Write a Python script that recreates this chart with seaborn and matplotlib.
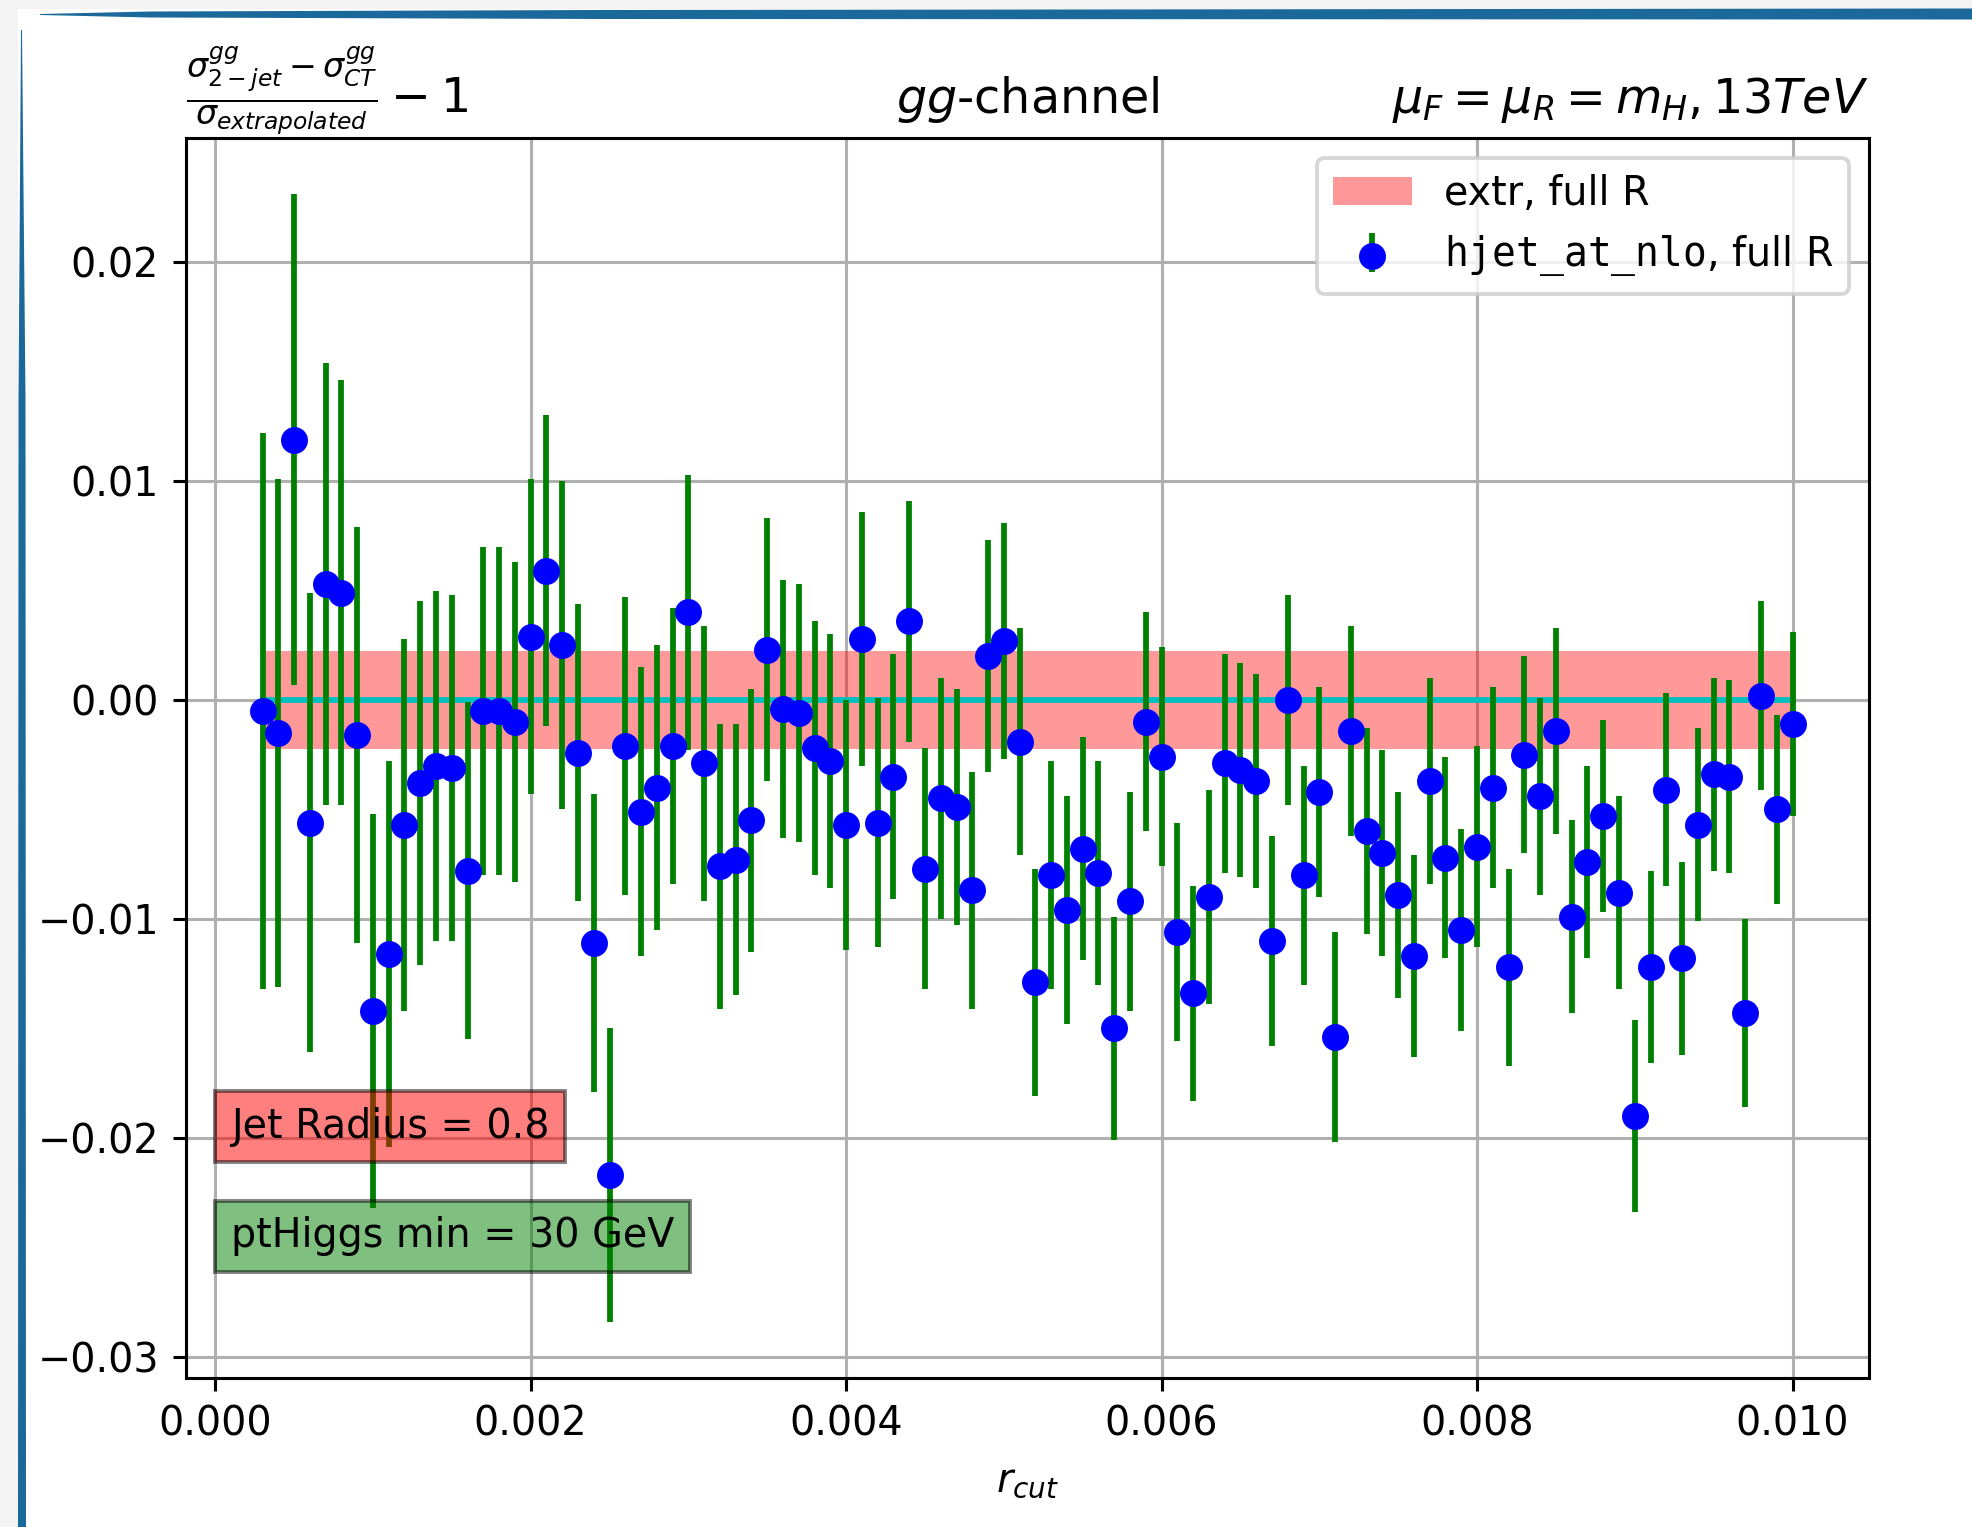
import numpy as np
import seaborn as sns
import matplotlib.pyplot as plt
from matplotlib.patches import Polygon, Rectangle
from matplotlib.legend_handler import HandlerTuple

# r_cut values, in units of 1e-4
rcut_e4 = [3, 4, 5, 6, 7, 8, 9, 10, 11, 12, 13, 14, 15, 16, 17, 18, 19, 20,
           21, 22, 23, 24, 25, 26, 27, 28, 29, 30, 31, 32, 33, 34, 35, 36, 37,
           38, 39, 40, 41, 42, 43, 44, 45, 46, 47, 48, 49, 50, 51, 52, 53, 54,
           55, 56, 57, 58, 59, 60, 61, 62, 63, 64, 65, 66, 67, 68, 69, 70, 71,
           72, 73, 74, 75, 76, 77, 78, 79, 80, 81, 82, 83, 84, 85, 86, 87, 88,
           89, 90, 91, 92, 93, 94, 95, 96, 97, 98, 99, 100]

# (sigma_2jet - sigma_CT) / sigma_extrapolated - 1
ratio = [-0.0005, -0.0015, 0.0119, -0.0056, 0.0053, 0.0049, -0.0016, -0.0142,
         -0.0116, -0.0057, -0.0038, -0.0030, -0.0031, -0.0078, -0.0005, -0.0005,
         -0.0010, 0.0029, 0.0059, 0.0025, -0.0024, -0.0111, -0.0217, -0.0021,
         -0.0051, -0.0040, -0.0021, 0.0040, -0.0029, -0.0076, -0.0073, -0.0055,
         0.0023, -0.0004, -0.0006, -0.0022, -0.0028, -0.0057, 0.0028, -0.0056,
         -0.0035, 0.0036, -0.0077, -0.0045, -0.0049, -0.0087, 0.0020, 0.0027,
         -0.0019, -0.0129, -0.0080, -0.0096, -0.0068, -0.0079, -0.0150, -0.0092,
         -0.0010, -0.0026, -0.0106, -0.0134, -0.0090, -0.0029, -0.0032, -0.0037,
         -0.0110, 0.0000, -0.0080, -0.0042, -0.0154, -0.0014, -0.0060, -0.0070,
         -0.0089, -0.0117, -0.0037, -0.0072, -0.0105, -0.0067, -0.0040, -0.0122,
         -0.0025, -0.0044, -0.0014, -0.0099, -0.0074, -0.0053, -0.0088, -0.0190,
         -0.0122, -0.0041, -0.0118, -0.0057, -0.0034, -0.0035, -0.0143, 0.0002,
         -0.0050, -0.0011]

ratio_err = [0.0127, 0.0116, 0.0112, 0.0105, 0.0101, 0.0097, 0.0095, 0.0090,
             0.0088, 0.0085, 0.0083, 0.0080, 0.0079, 0.0077, 0.0075, 0.0075,
             0.0073, 0.0072, 0.0071, 0.0075, 0.0068, 0.0068, 0.0067, 0.0068,
             0.0066, 0.0065, 0.0063, 0.0063, 0.0063, 0.0065, 0.0062, 0.0060,
             0.0060, 0.0059, 0.0059, 0.0058, 0.0058, 0.0057, 0.0058, 0.0057,
             0.0056, 0.0055, 0.0055, 0.0055, 0.0054, 0.0054, 0.0053, 0.0054,
             0.0052, 0.0052, 0.0052, 0.0052, 0.0051, 0.0051, 0.0051, 0.0050,
             0.0050, 0.0050, 0.0050, 0.0049, 0.0049, 0.0050, 0.0049, 0.0049,
             0.0048, 0.0048, 0.0050, 0.0048, 0.0048, 0.0048, 0.0047, 0.0047,
             0.0047, 0.0046, 0.0047, 0.0046, 0.0046, 0.0046, 0.0046, 0.0045,
             0.0045, 0.0045, 0.0047, 0.0044, 0.0044, 0.0044, 0.0044, 0.0044,
             0.0044, 0.0044, 0.0044, 0.0044, 0.0044, 0.0044, 0.0043, 0.0043,
             0.0043, 0.0042]

# extrapolated band (relative)
band_lo = -0.00225
band_hi = 0.00225

yticks = [-0.03, -0.02, -0.01, 0.00, 0.01, 0.02]

r_cut = np.array(rcut_e4) * 1e-4
ratio = np.array(ratio)
ratio_err = np.array(ratio_err)

plt.rcParams['font.size'] = 10.3

DPI = 277
W, H = 1972, 1527
fig = plt.figure(figsize=(W / DPI, H / DPI), dpi=DPI)
ax = fig.add_axes([186 / W, 1 - 1378 / H, (1869 - 186) / W, (1378 - 138) / H])

# slide frame around the figure
def px(x, y):
    return (x / W, 1 - y / H)

fig.add_artist(Rectangle((0, 0), 18 / W, 1, transform=fig.transFigure,
                         color='#f3f3f3', lw=0, zorder=0))
fig.add_artist(Rectangle(px(0, 9), 1, 9 / H, transform=fig.transFigure,
                         color='#f3f3f3', lw=0, zorder=0))
top_bar = [px(40, 14), px(150, 11.5), px(600, 10), px(1972, 8.5),
           px(1972, 19.5), px(600, 19), px(150, 17.5), px(40, 15)]
fig.add_artist(Polygon(top_bar, closed=True, transform=fig.transFigure,
                       color='#1b689b', lw=0))
left_bar = [px(21, 30), px(18.5, 400), px(18, 1527), px(26, 1527),
            px(25.5, 400), px(22, 30)]
fig.add_artist(Polygon(left_bar, closed=True, transform=fig.transFigure,
                       color='#1b689b', lw=0))

ax.grid(True, color='#b0b0b0', linewidth=0.8)
ax.set_axisbelow(True)

band = ax.fill_between(r_cut, band_lo, band_hi, color='red', alpha=0.4,
                       linewidth=0, label='extr, full R')
ax.plot(r_cut, np.zeros_like(r_cut), color='c', linewidth=1.5)

eb = ax.errorbar(r_cut, ratio, yerr=ratio_err, fmt='none', ecolor='green',
                 elinewidth=1.5, zorder=2)
sns.scatterplot(x=r_cut, y=ratio, color='blue', s=36, edgecolor='blue',
                linewidth=1.0, zorder=3, ax=ax, legend=False)
points = ax.collections[-1]

ax.set_yticks(yticks)
ax.set_xlabel(r'$r_{cut}$')
ax.set_title(r'$gg$-channel', fontsize=12.4)
ax.set_title(r'$\frac{\sigma^{gg}_{2-jet}-\sigma^{gg}_{CT}}{\sigma_{extrapolated}}-1$',
             loc='left', fontsize=12.4)
ax.set_title(r'$\mu_F = \mu_R = m_H, 13TeV$', loc='right', fontsize=12.4)

ax.text(0.0001, -0.02, 'Jet Radius = 0.8',
        bbox=dict(facecolor='red', alpha=0.5))
ax.text(0.0001, -0.025, 'ptHiggs min = 30 GeV',
        bbox=dict(facecolor='green', alpha=0.5))

ax.legend([band, (eb, points)],
          ['extr, full R', r'$\mathtt{hjet\_at\_nlo}$, full R'],
          handler_map={tuple: HandlerTuple(ndivide=1)},
          loc='upper right')

fig.savefig('out.png', dpi=DPI)
